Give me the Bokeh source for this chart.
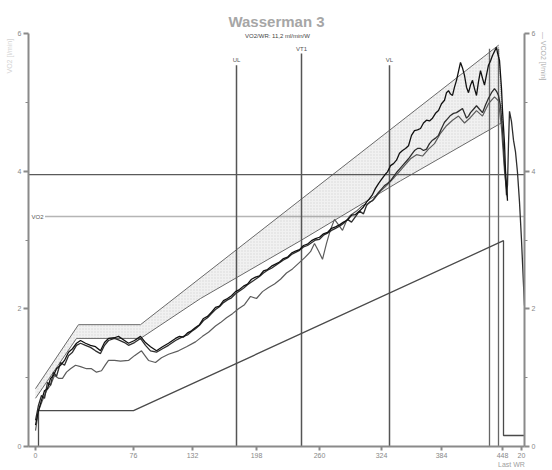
import math
from bokeh.plotting import figure
from bokeh.models import Range1d, LinearAxis, FixedTicker
from bokeh.embed import file_html
from bokeh.resources import INLINE
from bokeh.core.properties import value

# ---------------- data ----------------
x_ticks = [0, 98, 157, 221, 284, 346, 406, 467, 486]
x_tick_labels = ["0", "76", "132", "198", "260", "324", "384", "448", "20"]
y_ticks = [0, 2, 4, 6]
y_minor = [1, 3, 5]
last_wr_t = 476
axis_title_v = 5.67

# VCO2-like trace (reaches the highest peak)
b_t = [0, 3, 6, 9, 12, 15, 18, 21, 25, 29, 33, 37, 41, 45, 50, 55, 60, 65, 69, 73, 79, 83, 89, 93, 99, 105, 110, 115, 121, 127, 133,
       140, 144, 148, 152, 156, 160, 164, 168, 172, 176, 180, 184, 188, 192, 196, 200, 204, 208, 212, 216, 220, 224, 228, 232, 236, 240,
       244, 248, 252, 256, 260, 264, 268, 272, 276, 280, 284, 288, 292, 296, 300, 304, 308, 312, 316, 320, 324, 328, 331,
       334, 337, 340, 343, 346, 349, 352, 355, 358, 361, 364, 367, 370, 373, 376, 379, 382, 385, 388, 391, 394, 397, 400, 403, 406,
       409, 411, 413, 415, 417, 419, 421, 423, 425, 427, 429, 431, 433, 435, 437, 439, 441, 443, 445, 447, 449, 451, 453, 455, 457,
       459, 461, 462, 464, 466, 467, 469, 470, 472]
b_v = [0.31, 0.52, 0.67, 0.81, 0.84, 0.99, 1.03, 1.13, 1.18, 1.25, 1.37, 1.42, 1.50, 1.54, 1.50, 1.47, 1.45, 1.39, 1.51, 1.57, 1.58, 1.60, 1.54, 1.50, 1.54, 1.60, 1.51, 1.45, 1.39, 1.45, 1.50,
       1.57, 1.60, 1.59, 1.65, 1.68, 1.73, 1.77, 1.86, 1.89, 1.95, 2.02, 2.04, 2.12, 2.15, 2.19, 2.25, 2.28, 2.33, 2.36, 2.43, 2.46, 2.48, 2.55, 2.57, 2.62, 2.65,
       2.68, 2.73, 2.75, 2.81, 2.84, 2.86, 2.92, 2.94, 2.99, 3.02, 3.04, 3.09, 3.11, 3.17, 3.19, 3.22, 3.26, 3.29, 3.36, 3.37, 3.42, 3.48, 3.55,
       3.60, 3.66, 3.75, 3.82, 3.88, 3.94, 3.99, 4.08, 4.11, 4.16, 4.26, 4.30, 4.33, 4.37, 4.52, 4.59, 4.60, 4.62, 4.70, 4.74, 4.73, 4.77, 4.84, 4.88, 4.98,
       5.03, 5.14, 5.17, 5.12, 5.10, 5.22, 5.32, 5.45, 5.58, 5.50, 5.39, 5.22, 5.14, 5.25, 5.32, 5.20, 5.10, 5.30, 5.46, 5.35, 5.25, 5.40, 5.54, 5.60, 5.68,
       5.74, 5.80, 5.72, 5.61, 5.20, 4.88, 4.40, 4.01, 3.57]

# VO2-like trace (with post-exercise bump)
a_t = [0, 3, 6, 9, 12, 15, 18, 21, 25, 29, 33, 37, 41, 45, 50, 55, 60, 65, 69, 73, 79, 83, 89, 93, 99, 105, 110, 115, 121, 127, 133,
       140, 144, 148, 152, 156, 160, 164, 168, 172, 176, 180, 184, 188, 192, 196, 200, 204, 208, 212, 216, 220, 224, 228, 232, 236, 240,
       244, 248, 252, 256, 260, 264, 268, 272, 276, 280, 284, 288, 292, 296, 300, 304, 308, 312, 316, 320, 324, 328, 331,
       334, 337, 340, 343, 346, 349, 352, 355, 358, 361, 364, 367, 370, 373, 376, 379, 382, 385, 388, 391, 394, 397, 400, 403, 406,
       409, 412, 415, 418, 421, 424, 427, 429, 431, 433, 435, 438, 441, 444, 447, 450, 453, 456, 459, 461, 463, 465, 467, 469, 471,
       472, 473, 474, 476, 478, 480, 482, 484, 486, 488, 489]
a_v = [0.38, 0.60, 0.74, 0.70, 0.93, 0.89, 1.08, 1.02, 1.22, 1.18, 1.32, 1.37, 1.47, 1.50, 1.47, 1.44, 1.39, 1.35, 1.47, 1.54, 1.57, 1.55, 1.51, 1.47, 1.51, 1.57, 1.47, 1.39, 1.37, 1.42, 1.47,
       1.54, 1.57, 1.60, 1.62, 1.67, 1.71, 1.76, 1.83, 1.87, 1.93, 1.99, 2.03, 2.09, 2.13, 2.16, 2.22, 2.26, 2.30, 2.35, 2.39, 2.43, 2.47, 2.52, 2.56, 2.59, 2.63,
       2.67, 2.71, 2.74, 2.79, 2.82, 2.85, 2.90, 2.92, 2.96, 3.00, 3.01, 3.07, 3.10, 3.14, 3.17, 3.20, 3.24, 3.30, 3.26, 3.34, 3.42, 3.38, 3.50,
       3.55, 3.57, 3.63, 3.69, 3.74, 3.79, 3.82, 3.86, 3.92, 3.98, 4.03, 4.08, 4.13, 4.18, 4.24, 4.30, 4.33, 4.33, 4.30, 4.32, 4.40, 4.45, 4.48, 4.52, 4.62,
       4.71, 4.76, 4.81, 4.84, 4.85, 4.88, 4.91, 4.84, 4.77, 4.80, 4.85, 4.90, 4.95, 4.90, 4.85, 4.96, 5.06, 5.14, 5.20, 5.16, 5.10, 4.95, 4.60, 4.10, 3.65,
       3.80, 4.40, 4.87, 4.72, 4.45, 4.28, 3.98, 3.55, 3.00, 2.35, 2.05]

# third (lower) trace
c_t = [0, 3, 7, 11, 15, 19, 23, 27, 31, 35, 40, 45, 51, 56, 61, 66, 70, 73, 79, 85, 93, 99, 106, 110, 113, 120, 126, 133,
       143, 151, 160, 167, 173, 180, 185, 191, 197, 203, 209, 215, 221, 227, 233, 239, 245, 251, 257, 263, 269, 275, 279, 283, 287,
       291, 295, 299, 303, 307, 311, 315, 321, 327, 333, 339, 345, 351, 357, 363, 369, 375, 381, 387, 393, 399, 405, 411, 417, 423,
       429, 435, 441, 447, 453, 459, 463, 466, 469, 472]
c_v = [0.23, 0.52, 0.67, 0.81, 0.89, 1.03, 0.99, 0.99, 1.08, 1.13, 1.18, 1.16, 1.13, 1.13, 1.08, 1.10, 1.19, 1.25, 1.25, 1.24, 1.25, 1.32, 1.39, 1.31, 1.25, 1.22, 1.29, 1.34,
       1.39, 1.45, 1.52, 1.60, 1.66, 1.75, 1.80, 1.87, 1.93, 2.00, 2.06, 2.18, 2.15, 2.25, 2.31, 2.36, 2.43, 2.52, 2.58, 2.66, 2.74, 2.83, 2.95, 2.84, 2.72,
       2.95, 3.15, 3.30, 3.22, 3.14, 3.28, 3.36, 3.42, 3.50, 3.53, 3.60, 3.71, 3.79, 3.88, 3.98, 4.08, 4.18, 4.24, 4.22, 4.32, 4.40, 4.55, 4.66, 4.74, 4.80,
       4.70, 4.78, 4.88, 4.80, 4.98, 5.08, 5.02, 4.62, 4.00, 3.62]

# work-rate protocol
wr_t = [3, 3, 98, 468, 468, 489]
wr_v = [0.0, 0.52, 0.52, 2.99, 0.16, 0.16]

# predicted band
band_up_t = [0, 43, 105, 463]
band_up_v = [0.84, 1.77, 1.77, 5.83]
band_lo_t = [0, 41, 105, 165, 265, 365, 467]
band_lo_v = [0.70, 1.57, 1.57, 2.15, 2.99, 3.86, 4.71]

# markers
mark_names = ["UL", "VT1", "VL"]
mark_t = [201, 266, 354]
mark_top = [5.54, 5.71, 5.54]
mark_label_y = [5.61, 5.78, 5.61]
peak_t = [454, 463]
peak_top = 5.78
h_line_v = 3.95
vo2_line_v = 3.34

# ---------------- figure ----------------
p = figure(width=552, height=470, output_backend="svg", toolbar_location=None,
           x_range=Range1d(-7, 489), y_range=Range1d(0, 6),
           min_border_left=28, min_border_right=28, min_border_top=33, min_border_bottom=24,
           outline_line_color=None, background_fill_color="white", border_fill_color="white")
p.title.text = "Wasserman 3"
p.title.align = "center"
p.title.text_font = "Liberation Sans"
p.title.text_font_size = "15px"
p.title.text_font_style = "bold"
p.title.text_color = "#a6a6a6"
p.title.standoff = 8
p.xgrid.visible = False
p.ygrid.visible = False

def style_axis(ax):
    ax.axis_line_color = "#8a8a8a"
    ax.axis_line_width = 2
    ax.major_tick_line_color = "#8a8a8a"
    ax.major_tick_line_width = 2
    ax.minor_tick_line_color = "#8a8a8a"
    ax.major_tick_in = 0
    ax.major_tick_out = 5
    ax.minor_tick_in = 0
    ax.minor_tick_out = 3
    ax.major_label_text_font = "Liberation Sans"
    ax.major_label_text_font_size = "7px"
    ax.major_label_text_color = "#888888"
    ax.major_label_standoff = 2

def label_axis(ax, color):
    # an axis used only to carry a single text outside the frame
    ax.axis_line_color = None
    ax.major_tick_line_color = None
    ax.minor_tick_line_color = None
    ax.major_tick_in = 0
    ax.major_tick_out = 0
    ax.minor_tick_in = 0
    ax.minor_tick_out = 0
    ax.major_label_text_font = "Liberation Sans"
    ax.major_label_text_font_size = "7px"
    ax.major_label_text_color = color
    ax.major_label_standoff = 1

p.xaxis.ticker = FixedTicker(ticks=x_ticks)
p.xaxis.major_label_overrides = {t: l for t, l in zip(x_ticks, x_tick_labels)}
p.yaxis.ticker = FixedTicker(ticks=y_ticks, minor_ticks=y_minor)
style_axis(p.xaxis[0])
style_axis(p.yaxis[0])
p.xaxis.minor_tick_out = 0
p.xaxis.major_tick_out = 4
ry = LinearAxis(ticker=FixedTicker(ticks=y_ticks, minor_ticks=y_minor))
style_axis(ry)
p.add_layout(ry, "right")

# "Last WR" below the x axis
xw = LinearAxis(ticker=FixedTicker(ticks=[last_wr_t]), major_label_overrides={last_wr_t: "Last WR"})
label_axis(xw, "#a0a0a0")
xw.major_label_standoff = 0
p.add_layout(xw, "below")

# axis titles near the top of each y axis
ly = LinearAxis(ticker=FixedTicker(ticks=[axis_title_v]),
                major_label_overrides={axis_title_v: "VO2 [l/min]"}, major_label_orientation="vertical")
label_axis(ly, "#d4d4d4")
p.add_layout(ly, "left")
ry2 = LinearAxis(ticker=FixedTicker(ticks=[axis_title_v]),
                 major_label_overrides={axis_title_v: "— VCO2 [l/min]"}, major_label_orientation="vertical")
label_axis(ry2, "#b0b0b0")
p.add_layout(ry2, "right")

# band
band_x = band_up_t + band_lo_t[::-1]
band_y = band_up_v + band_lo_v[::-1]
p.patch(band_x, band_y, fill_color="#f1f1f1", line_color=None,
        hatch_pattern="dot", hatch_color="#cfcfcf", hatch_scale=3, hatch_alpha=0.7)
p.line(band_up_t, band_up_v, line_color="#6a6a6a", line_width=1)
p.line(band_lo_t, band_lo_v, line_color="#6a6a6a", line_width=1)
p.line([band_up_t[-1], band_lo_t[-1]], [band_up_v[-1], band_lo_v[-1]],
       line_color="#9a9a9a", line_width=1, line_dash="1 1")

# reference lines
p.segment(x0=[-7], y0=[h_line_v], x1=[489], y1=[h_line_v], line_color="#5a5a5a", line_width=1.3)
p.segment(x0=[10], y0=[vo2_line_v], x1=[489], y1=[vo2_line_v], line_color="#6a6a6a", line_width=1.5, line_dash="1 1")
p.text(x=[-4], y=[vo2_line_v], text=["VO2"], text_font=value("Liberation Sans"),
       text_font_size="6px", text_color="#555555", text_baseline="middle", text_align="left")

p.segment(x0=mark_t, y0=[0] * len(mark_t), x1=mark_t, y1=mark_top, line_color="#555555", line_width=1.5)
p.text(x=mark_t, y=mark_label_y, text=mark_names, text_font=value("Liberation Sans"),
       text_font_size="6px", text_color="#555555", text_baseline="middle", text_align="center")
p.segment(x0=peak_t, y0=[0] * len(peak_t), x1=peak_t, y1=[peak_top] * len(peak_t),
          line_color="#666666", line_width=1.3)

p.text(x=[242], y=[5.96], text=["VO2/WR: 11,2 ml/min/W"], text_font=value("Liberation Sans"),
       text_font_size="6px", text_color="#444444", text_baseline="middle", text_align="center")

# work rate
p.line(wr_t, wr_v, line_color="#4a4a4a", line_width=1.3)

# traces
p.line(c_t, c_v, line_color="#5c5c5c", line_width=1.2)
p.line(a_t, a_v, line_color="#2e2e2e", line_width=1.3)
p.line(b_t, b_v, line_color="#111111", line_width=1.3)

open("out.html", "w").write(file_html(p, INLINE))
